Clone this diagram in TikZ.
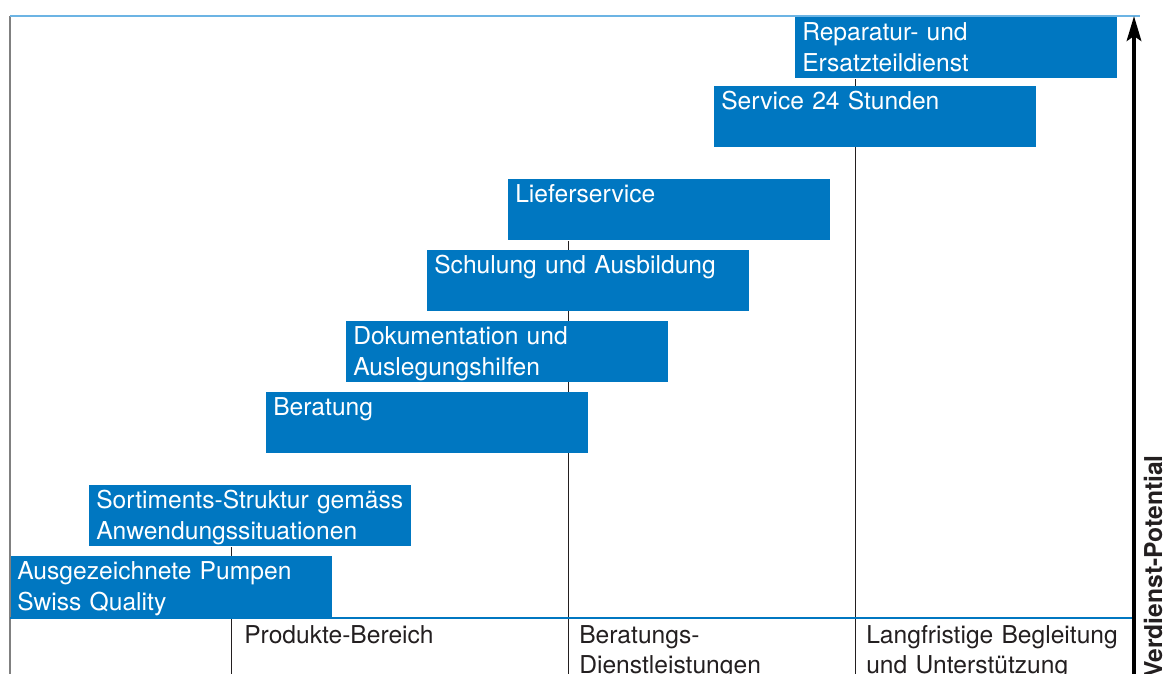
\documentclass[tikz,border=0pt]{standalone}
\usepackage{fontspec}
\setmainfont{TeX Gyre Heros}
\usepackage{tikz}
\usetikzlibrary{arrows.meta,backgrounds}
\definecolor{boxblue}{HTML}{0077C1}
\definecolor{toplineblue}{HTML}{6CB4E4}
\definecolor{framegray}{HTML}{808080}
\definecolor{labelblack}{HTML}{231F20}
\tikzset{
  offerbox/.style={fill=boxblue, text=white, anchor=north west, inner xsep=0.175cm, inner ysep=0pt,
    text width=7.7cm, align=left, text height=0.575cm, text depth=0.95cm,
    font=\fontsize{17.5}{22}\selectfont},
  arealabel/.style={text=labelblack, anchor=base west, inner sep=0pt, text width=7cm, align=left,
    font=\fontsize{17.5}{22}\selectfont},
  colline/.style={draw=labelblack, line width=0.025cm},
}

\begin{document}
\begin{tikzpicture}[x=0.025cm, y=-0.025cm]
\useasboundingbox (0,0) rectangle (1176,673);
\clip (0,0) rectangle (1176,673);

%Frame and axis
\coordinate (arrowtip) at (1134,16);
\coordinate (arrowfoot) at (1134,690);
\coordinate (col1) at (231,690);
\coordinate (col2) at (568,690);
\coordinate (col3) at (855,690);

%Offers, from bottom to top
\node [offerbox] (pumpen) at (10,556) {Ausgezeichnete Pumpen\\Swiss Quality};
\node [offerbox] (sortiment) at (89,485) {Sortiments-Struktur gemäss\\Anwendungssituationen};
\node [offerbox] (beratung) at (266,392) {Beratung};
\node [offerbox] (doku) at (346,321) {Dokumentation und\\Auslegungshilfen};
\node [offerbox] (schulung) at (427,250) {Schulung und Ausbildung};
\node [offerbox] (liefer) at (508,179) {Lieferservice};
\node [offerbox] (service) at (714,86) {Service 24 Stunden};
\node [offerbox] (reparatur) at (795,17) {Reparatur- und\\Ersatzteildienst};

%Column lines behind the boxes
\begin{scope}[on background layer]
\draw [colline] (col1) -- (col1 |- sortiment.south);
\draw [colline] (col2) -- (col2 |- liefer.south);
\draw [colline] (col3) -- (col3 |- reparatur.south);
\end{scope}

\draw [draw=framegray, line width=0.05cm] (10,16) -- (10,690);
\draw [draw=toplineblue, line width=0.05cm] (10,16) -- (1140,16);
\draw [draw=boxblue, line width=0.05cm] (pumpen.south west) -- (pumpen.south west -| arrowfoot);

%Areas
\node [arealabel] (produkte) at (244,643) {Produkte-Bereich};
\node [arealabel] (dienst) at (579,643) {Beratungs-\\Dienstleistungen};
\node [arealabel] (begleitung) at (866,643) {Langfristige Begleitung\\und Unterstützung};

\draw [draw=black, line width=0.105cm, -{Stealth[length=0.62cm, width=0.36cm, inset=0.12cm]}] (arrowfoot) -- (arrowtip);
\node [rotate=90, anchor=base east, inner sep=0pt, text=labelblack, font=\bfseries\fontsize{17.5}{22}\selectfont] (potential) at (1162,455) {Verdienst-Potential};

\end{tikzpicture}
\end{document}
